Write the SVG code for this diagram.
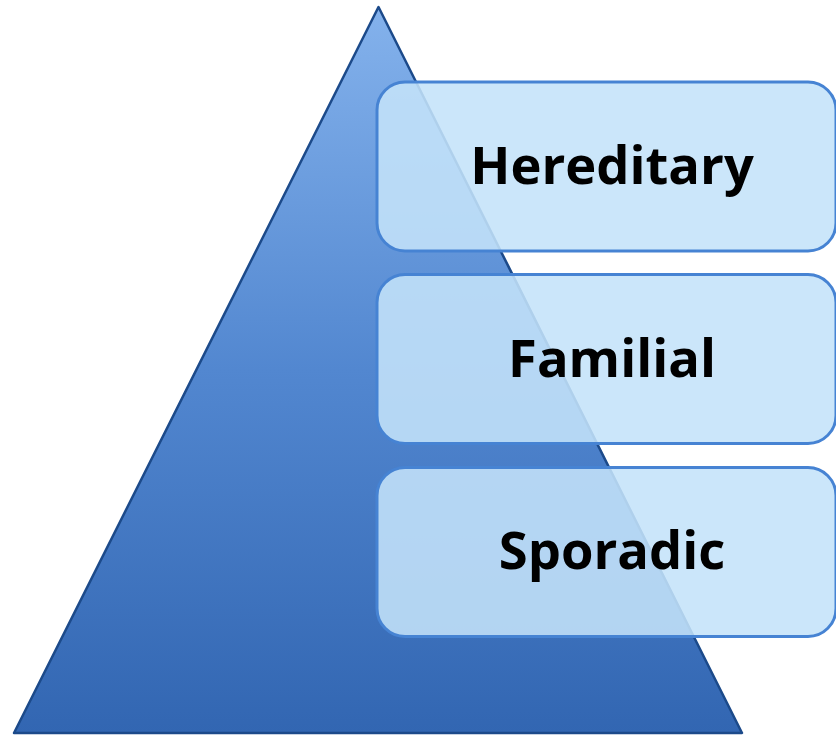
<svg xmlns="http://www.w3.org/2000/svg" width="836" height="735" viewBox="0 0 836 735">
<defs>
<linearGradient id="tri" x1="0" y1="0" x2="0" y2="1">
<stop offset="0" stop-color="#84b2ec"/>
<stop offset="0.5" stop-color="#5287d0"/>
<stop offset="1" stop-color="#3266b2"/>
</linearGradient>
</defs>
<style>
.box{fill:#c4e2f9;fill-opacity:0.88;stroke:#4683d3;stroke-width:3}
.lbl{font-family:"Open Sans","Liberation Sans",sans-serif;font-weight:bold;font-size:52.5px;fill:#000;text-anchor:middle}
</style>
<rect width="836" height="735" fill="#fff"/>
<g id="pyramid">
<polygon points="378.5,7 742,733 14,733" fill="url(#tri)" stroke="#1c4a8a" stroke-width="2.5" stroke-linejoin="round"/>
</g>
<g id="connectors"/>
<g id="hereditary">
<rect class="box" x="377" y="82" width="459" height="169" rx="28"/>
<text class="lbl" x="612" y="184">Hereditary</text>
</g>
<g id="familial">
<rect class="box" x="377" y="274.5" width="459" height="169" rx="28"/>
<text class="lbl" x="612" y="377">Familial</text>
</g>
<g id="sporadic">
<rect class="box" x="377" y="467.5" width="459" height="169" rx="28"/>
<text class="lbl" x="612" y="569">Sporadic</text>
</g>
</svg>
